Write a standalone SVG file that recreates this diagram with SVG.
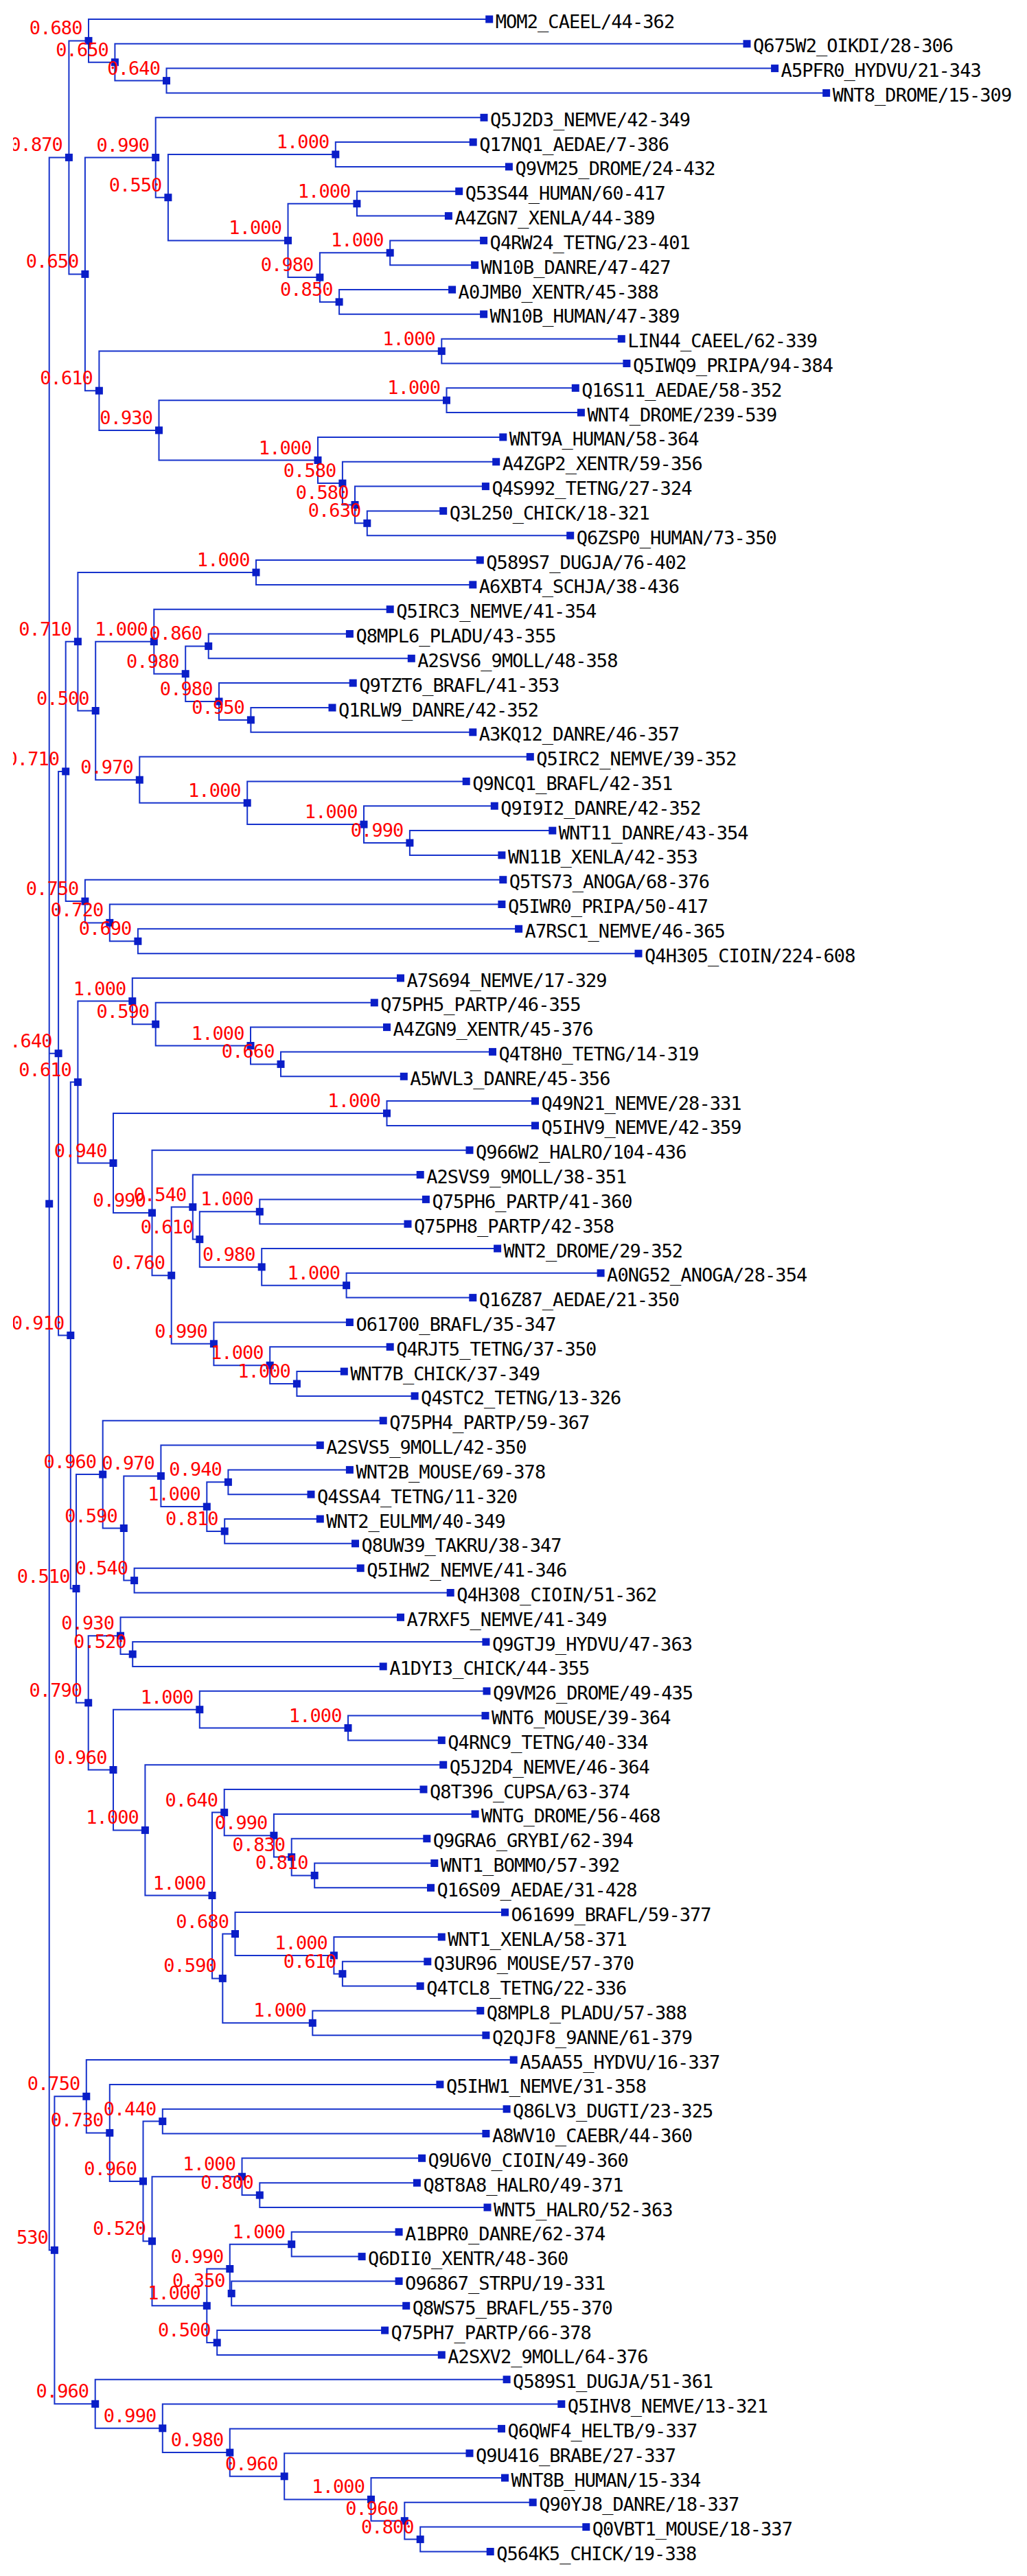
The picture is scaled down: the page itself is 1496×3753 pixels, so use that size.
<svg xmlns="http://www.w3.org/2000/svg" xmlns:xlink="http://www.w3.org/1999/xlink" width="1496" height="3753" viewBox="0 0 1496 3753">
<defs>
<style>
.c{fill:none;stroke:#1733cc;stroke-width:2}
.s{fill:#0a1ec8}
.t{font-family:"DejaVu Sans Mono","Liberation Mono",monospace;font-size:27px;letter-spacing:-0.93px;fill:#000}
.b{font-family:"DejaVu Sans Mono","Liberation Mono",monospace;font-size:27px;letter-spacing:-0.93px;fill:#ff0000;text-anchor:end}
</style>
<rect id="q" class="s" x="-5.5" y="-5.5" width="11" height="11"/>
<clipPath id="cl"><rect x="19" y="0" width="1477" height="3753"/></clipPath>
</defs>
<rect width="1496" height="3753" fill="#fff"/>
<g id="connectors" class="c">
<path d="M100.4 229.4H71.7V3278.3H79.4M71.7 1534.7H85.1"/>
<path d="M129 59.4H100.4V399.4H123.9"/>
<path d="M712.7 28H129V90.7H167.4"/>
<path d="M1088 63.8H167.4V117.6H242.5"/>
<path d="M1128.6 99.6H242.5V135.5H1203.7"/>
<path d="M226.7 229.5H123.9V569.2H144.4"/>
<path d="M705 171.3H226.7V287.7H244.9"/>
<path d="M488.8 225H244.9V350.4H419.5"/>
<path d="M689.2 207.1H488.8V242.9H741.4"/>
<path d="M519.9 296.7H419.5V404.1H465.9"/>
<path d="M668.7 278.7H519.9V314.6H653.4"/>
<path d="M568.2 368.3H465.9V439.9H494.1"/>
<path d="M704.6 350.4H568.2V386.2H691.6"/>
<path d="M658.6 422H494.1V457.8H704.6"/>
<path d="M643.3 511.6H144.4V626.9H231.5"/>
<path d="M905.3 493.7H643.3V529.5H912.9"/>
<path d="M650.5 583.2H231.5V670.5H463"/>
<path d="M838.3 565.3H650.5V601.1H846.4"/>
<path d="M732.8 636.9H463V704.1H498.9"/>
<path d="M722.7 672.8H498.9V735.5H517"/>
<path d="M707.4 708.6H517V762.3H534.8"/>
<path d="M645.7 744.4H534.8V780.2H830.7"/>
<path d="M95.7 1123.9H85.1V1945.5H102.8"/>
<path d="M113.4 934.7H95.7V1313.1H123.9"/>
<path d="M373 834H113.4V1035.5H139.2"/>
<path d="M699.3 816H373V851.9H688.8"/>
<path d="M224.3 934.7H139.2V1136.2H203.3"/>
<path d="M568.2 887.7H224.3V981.7H270.2"/>
<path d="M303.7 941.4H270.2V1022H319"/>
<path d="M509.4 923.5H303.7V959.3H599.3"/>
<path d="M514.2 995.1H319V1048.9H365.4"/>
<path d="M484 1031H365.4V1066.8H688.8"/>
<path d="M772.3 1102.6H203.3V1169.8H360.2"/>
<path d="M679.2 1138.4H360.2V1201.1H530"/>
<path d="M720.3 1174.2H530V1228H596.9"/>
<path d="M804.8 1210.1H596.9V1245.9H730.9"/>
<path d="M732.8 1281.7H123.9V1344.4H159.8"/>
<path d="M730.9 1317.5H159.8V1371.3H200.9"/>
<path d="M755.6 1353.3H200.9V1389.2H930"/>
<path d="M113.4 1576.6H102.8V2314.5H111"/>
<path d="M192.8 1458.6H113.4V1694.5H165"/>
<path d="M583.5 1425H192.8V1492.2H226.7"/>
<path d="M545.3 1460.8H226.7V1523.5H365"/>
<path d="M563.5 1496.6H365V1550.4H409"/>
<path d="M717.5 1532.4H409V1568.3H588.3"/>
<path d="M563.5 1622H165V1767H221.5"/>
<path d="M779.5 1604.1H563.5V1639.9H779.5"/>
<path d="M684 1675.7H221.5V1858.2H249.7"/>
<path d="M280.8 1758.6H249.7V1957.8H311.4"/>
<path d="M612.2 1711.5H280.8V1805.6H290.8"/>
<path d="M378.3 1765.3H290.8V1845.9H381.2"/>
<path d="M620.4 1747.4H378.3V1783.2H594"/>
<path d="M724.6 1819H381.2V1872.7H504.6"/>
<path d="M875.1 1854.8H504.6V1890.6H688.8"/>
<path d="M509.4 1926.5H311.4V1989.2H393.2"/>
<path d="M568.2 1962.3H393.2V2016H432.4"/>
<path d="M501.3 1998.1H432.4V2033.9H604.1"/>
<path d="M149.7 2148.1H111V2480.8H128.7"/>
<path d="M558.2 2069.7H149.7V2226.5H180.3"/>
<path d="M234.4 2150.4H180.3V2302.6H195.6"/>
<path d="M466.3 2105.6H234.4V2195.1H301.3"/>
<path d="M332.4 2159.3H301.3V2230.9H327.2"/>
<path d="M509.4 2141.4H332.4V2177.2H453"/>
<path d="M466.3 2213H327.2V2248.8H517.5"/>
<path d="M525.2 2284.7H195.6V2320.5H656.2"/>
<path d="M175.5 2383.2H128.7V2578.5H165"/>
<path d="M583.5 2356.3H175.5V2410H193.2"/>
<path d="M707.9 2392.1H193.2V2427.9H558.2"/>
<path d="M290.8 2490.7H165V2666.4H211.4"/>
<path d="M709 2463.8H290.8V2517.5H507"/>
<path d="M707 2499.6H507V2535.4H643.3"/>
<path d="M645.7 2571.2H211.4V2761.5H309"/>
<path d="M326.7 2640.6H309V2882.4H324.3"/>
<path d="M617 2607H326.7V2674.2H398.9"/>
<path d="M692.1 2642.9H398.9V2705.6H424.7"/>
<path d="M621.8 2678.7H424.7V2732.4H458.2"/>
<path d="M632.8 2714.5H458.2V2750.3H627.5"/>
<path d="M342.5 2817.5H324.3V2947.3H455.3"/>
<path d="M735.5 2786.1H342.5V2848.9H486.4"/>
<path d="M643.3 2822H486.4V2875.7H498.9"/>
<path d="M622.8 2857.8H498.9V2893.6H612.2"/>
<path d="M699.8 2929.4H455.3V2965.2H707.9"/>
<path d="M125.8 3054.3H79.4V3502.3H138.7"/>
<path d="M748.2 3001.1H125.8V3107.4H159.8"/>
<path d="M640.9 3036.9H159.8V3177.9H208.5"/>
<path d="M236.8 3090.6H208.5V3265.2H221.5"/>
<path d="M738.1 3072.7H236.8V3108.5H707.9"/>
<path d="M352.5 3171.2H221.5V3359.3H301.3"/>
<path d="M614.6 3144.3H352.5V3198.1H378.3"/>
<path d="M607.4 3180.2H378.3V3216H710"/>
<path d="M334.8 3305.5H301.3V3413H316.2"/>
<path d="M424.7 3269.7H334.8V3341.4H337.2"/>
<path d="M581.1 3251.8H424.7V3287.6H527.1"/>
<path d="M581.1 3323.4H337.2V3359.3H591.7"/>
<path d="M560.6 3395.1H316.2V3430.9H643.3"/>
<path d="M738.1 3466.7H138.7V3537.8H236.8"/>
<path d="M817.8 3502.5H236.8V3573.1H334.8"/>
<path d="M730.5 3538.4H334.8V3607.8H414.2"/>
<path d="M684 3574.2H414.2V3641.4H540.5"/>
<path d="M735.5 3610H540.5V3672.7H589.3"/>
<path d="M776.2 3645.8H589.3V3699.6H612.2"/>
<path d="M853.8 3681.6H612.2V3717.5H714.2"/>
</g>
<g id="inner-nodes">
<g id="n-root"><use href="#q" x="71.7" y="1753.8"/></g>
<g id="n1"><text class="b" clip-path="url(#cl)" x="90.9" y="220.4">0.870</text><use href="#q" x="100.4" y="229.4"/></g>
<g id="n2"><text class="b" x="119.5" y="50.4">0.680</text><use href="#q" x="129" y="59.4"/></g>
<g id="n3"><text class="b" x="157.9" y="81.7">0.650</text><use href="#q" x="167.4" y="90.7"/></g>
<g id="n4"><text class="b" x="233" y="108.6">0.640</text><use href="#q" x="242.5" y="117.6"/></g>
<g id="n5"><text class="b" x="114.4" y="390.4">0.650</text><use href="#q" x="123.9" y="399.4"/></g>
<g id="n6"><text class="b" x="217.2" y="220.5">0.990</text><use href="#q" x="226.7" y="229.5"/></g>
<g id="n7"><text class="b" x="235.4" y="278.7">0.550</text><use href="#q" x="244.9" y="287.7"/></g>
<g id="n8"><text class="b" x="479.3" y="216">1.000</text><use href="#q" x="488.8" y="225"/></g>
<g id="n9"><text class="b" x="410" y="341.4">1.000</text><use href="#q" x="419.5" y="350.4"/></g>
<g id="n10"><text class="b" x="510.4" y="287.7">1.000</text><use href="#q" x="519.9" y="296.7"/></g>
<g id="n11"><text class="b" x="456.4" y="395.1">0.980</text><use href="#q" x="465.9" y="404.1"/></g>
<g id="n12"><text class="b" x="558.7" y="359.3">1.000</text><use href="#q" x="568.2" y="368.3"/></g>
<g id="n13"><text class="b" x="484.6" y="430.9">0.850</text><use href="#q" x="494.1" y="439.9"/></g>
<g id="n14"><text class="b" x="134.9" y="560.2">0.610</text><use href="#q" x="144.4" y="569.2"/></g>
<g id="n15"><text class="b" x="633.8" y="502.6">1.000</text><use href="#q" x="643.3" y="511.6"/></g>
<g id="n16"><text class="b" x="222" y="617.9">0.930</text><use href="#q" x="231.5" y="626.9"/></g>
<g id="n17"><text class="b" x="641" y="574.2">1.000</text><use href="#q" x="650.5" y="583.2"/></g>
<g id="n18"><text class="b" x="453.5" y="661.5">1.000</text><use href="#q" x="463" y="670.5"/></g>
<g id="n19"><text class="b" x="489.4" y="695.1">0.580</text><use href="#q" x="498.9" y="704.1"/></g>
<g id="n20"><text class="b" x="507.5" y="726.5">0.580</text><use href="#q" x="517" y="735.5"/></g>
<g id="n21"><text class="b" x="525.3" y="753.3">0.630</text><use href="#q" x="534.8" y="762.3"/></g>
<g id="n22"><text class="b" clip-path="url(#cl)" x="75.6" y="1525.7">0.640</text><use href="#q" x="85.1" y="1534.7"/></g>
<g id="n23"><text class="b" clip-path="url(#cl)" x="86.2" y="1114.9">0.710</text><use href="#q" x="95.7" y="1123.9"/></g>
<g id="n24"><text class="b" x="103.9" y="925.7">0.710</text><use href="#q" x="113.4" y="934.7"/></g>
<g id="n25"><text class="b" x="363.5" y="825">1.000</text><use href="#q" x="373" y="834"/></g>
<g id="n26"><text class="b" x="129.7" y="1026.5">0.500</text><use href="#q" x="139.2" y="1035.5"/></g>
<g id="n27"><text class="b" x="214.8" y="925.7">1.000</text><use href="#q" x="224.3" y="934.7"/></g>
<g id="n28"><text class="b" x="260.7" y="972.7">0.980</text><use href="#q" x="270.2" y="981.7"/></g>
<g id="n29"><text class="b" x="294.2" y="932.4">0.860</text><use href="#q" x="303.7" y="941.4"/></g>
<g id="n30"><text class="b" x="309.5" y="1013">0.980</text><use href="#q" x="319" y="1022"/></g>
<g id="n31"><text class="b" x="355.9" y="1039.9">0.950</text><use href="#q" x="365.4" y="1048.9"/></g>
<g id="n32"><text class="b" x="193.8" y="1127.2">0.970</text><use href="#q" x="203.3" y="1136.2"/></g>
<g id="n33"><text class="b" x="350.7" y="1160.8">1.000</text><use href="#q" x="360.2" y="1169.8"/></g>
<g id="n34"><text class="b" x="520.5" y="1192.1">1.000</text><use href="#q" x="530" y="1201.1"/></g>
<g id="n35"><text class="b" x="587.4" y="1219">0.990</text><use href="#q" x="596.9" y="1228"/></g>
<g id="n36"><text class="b" x="114.4" y="1304.1">0.750</text><use href="#q" x="123.9" y="1313.1"/></g>
<g id="n37"><text class="b" x="150.3" y="1335.4">0.720</text><use href="#q" x="159.8" y="1344.4"/></g>
<g id="n38"><text class="b" x="191.4" y="1362.3">0.690</text><use href="#q" x="200.9" y="1371.3"/></g>
<g id="n39"><text class="b" clip-path="url(#cl)" x="93.3" y="1936.5">0.910</text><use href="#q" x="102.8" y="1945.5"/></g>
<g id="n40"><text class="b" x="103.9" y="1567.6">0.610</text><use href="#q" x="113.4" y="1576.6"/></g>
<g id="n41"><text class="b" x="183.3" y="1449.6">1.000</text><use href="#q" x="192.8" y="1458.6"/></g>
<g id="n42"><text class="b" x="217.2" y="1483.2">0.590</text><use href="#q" x="226.7" y="1492.2"/></g>
<g id="n43"><text class="b" x="355.5" y="1514.5">1.000</text><use href="#q" x="365" y="1523.5"/></g>
<g id="n44"><text class="b" x="399.5" y="1541.4">0.660</text><use href="#q" x="409" y="1550.4"/></g>
<g id="n45"><text class="b" x="155.5" y="1685.5">0.940</text><use href="#q" x="165" y="1694.5"/></g>
<g id="n46"><text class="b" x="554" y="1613">1.000</text><use href="#q" x="563.5" y="1622"/></g>
<g id="n47"><text class="b" x="212" y="1758">0.990</text><use href="#q" x="221.5" y="1767"/></g>
<g id="n48"><text class="b" x="240.2" y="1849.2">0.760</text><use href="#q" x="249.7" y="1858.2"/></g>
<g id="n49"><text class="b" x="271.3" y="1749.6">0.540</text><use href="#q" x="280.8" y="1758.6"/></g>
<g id="n50"><text class="b" x="281.3" y="1796.6">0.610</text><use href="#q" x="290.8" y="1805.6"/></g>
<g id="n51"><text class="b" x="368.8" y="1756.3">1.000</text><use href="#q" x="378.3" y="1765.3"/></g>
<g id="n52"><text class="b" x="371.7" y="1836.9">0.980</text><use href="#q" x="381.2" y="1845.9"/></g>
<g id="n53"><text class="b" x="495.1" y="1863.7">1.000</text><use href="#q" x="504.6" y="1872.7"/></g>
<g id="n54"><text class="b" x="301.9" y="1948.8">0.990</text><use href="#q" x="311.4" y="1957.8"/></g>
<g id="n55"><text class="b" x="383.7" y="1980.2">1.000</text><use href="#q" x="393.2" y="1989.2"/></g>
<g id="n56"><text class="b" x="422.9" y="2007">1.000</text><use href="#q" x="432.4" y="2016"/></g>
<g id="n57"><text class="b" x="101.5" y="2305.5">0.510</text><use href="#q" x="111" y="2314.5"/></g>
<g id="n58"><text class="b" x="140.2" y="2139.1">0.960</text><use href="#q" x="149.7" y="2148.1"/></g>
<g id="n59"><text class="b" x="170.8" y="2217.5">0.590</text><use href="#q" x="180.3" y="2226.5"/></g>
<g id="n60"><text class="b" x="224.9" y="2141.4">0.970</text><use href="#q" x="234.4" y="2150.4"/></g>
<g id="n61"><text class="b" x="291.8" y="2186.1">1.000</text><use href="#q" x="301.3" y="2195.1"/></g>
<g id="n62"><text class="b" x="322.9" y="2150.3">0.940</text><use href="#q" x="332.4" y="2159.3"/></g>
<g id="n63"><text class="b" x="317.7" y="2221.9">0.810</text><use href="#q" x="327.2" y="2230.9"/></g>
<g id="n64"><text class="b" x="186.1" y="2293.6">0.540</text><use href="#q" x="195.6" y="2302.6"/></g>
<g id="n65"><text class="b" x="119.2" y="2471.8">0.790</text><use href="#q" x="128.7" y="2480.8"/></g>
<g id="n66"><text class="b" x="166" y="2374.2">0.930</text><use href="#q" x="175.5" y="2383.2"/></g>
<g id="n67"><text class="b" x="183.7" y="2401">0.520</text><use href="#q" x="193.2" y="2410"/></g>
<g id="n68"><text class="b" x="155.5" y="2569.5">0.960</text><use href="#q" x="165" y="2578.5"/></g>
<g id="n69"><text class="b" x="281.3" y="2481.7">1.000</text><use href="#q" x="290.8" y="2490.7"/></g>
<g id="n70"><text class="b" x="497.5" y="2508.5">1.000</text><use href="#q" x="507" y="2517.5"/></g>
<g id="n71"><text class="b" x="201.9" y="2657.4">1.000</text><use href="#q" x="211.4" y="2666.4"/></g>
<g id="n72"><text class="b" x="299.5" y="2752.5">1.000</text><use href="#q" x="309" y="2761.5"/></g>
<g id="n73"><text class="b" x="317.2" y="2631.6">0.640</text><use href="#q" x="326.7" y="2640.6"/></g>
<g id="n74"><text class="b" x="389.4" y="2665.2">0.990</text><use href="#q" x="398.9" y="2674.2"/></g>
<g id="n75"><text class="b" x="415.2" y="2696.6">0.830</text><use href="#q" x="424.7" y="2705.6"/></g>
<g id="n76"><text class="b" x="448.7" y="2723.4">0.810</text><use href="#q" x="458.2" y="2732.4"/></g>
<g id="n77"><text class="b" x="314.8" y="2873.4">0.590</text><use href="#q" x="324.3" y="2882.4"/></g>
<g id="n78"><text class="b" x="333" y="2808.5">0.680</text><use href="#q" x="342.5" y="2817.5"/></g>
<g id="n79"><text class="b" x="476.9" y="2839.9">1.000</text><use href="#q" x="486.4" y="2848.9"/></g>
<g id="n80"><text class="b" x="489.4" y="2866.7">0.610</text><use href="#q" x="498.9" y="2875.7"/></g>
<g id="n81"><text class="b" x="445.8" y="2938.3">1.000</text><use href="#q" x="455.3" y="2947.3"/></g>
<g id="n82"><text class="b" clip-path="url(#cl)" x="69.9" y="3269.3">0.530</text><use href="#q" x="79.4" y="3278.3"/></g>
<g id="n83"><text class="b" x="116.3" y="3045.3">0.750</text><use href="#q" x="125.8" y="3054.3"/></g>
<g id="n84"><text class="b" x="150.3" y="3098.4">0.730</text><use href="#q" x="159.8" y="3107.4"/></g>
<g id="n85"><text class="b" x="199" y="3168.9">0.960</text><use href="#q" x="208.5" y="3177.9"/></g>
<g id="n86"><text class="b" x="227.3" y="3081.6">0.440</text><use href="#q" x="236.8" y="3090.6"/></g>
<g id="n87"><text class="b" x="212" y="3256.2">0.520</text><use href="#q" x="221.5" y="3265.2"/></g>
<g id="n88"><text class="b" x="343" y="3162.2">1.000</text><use href="#q" x="352.5" y="3171.2"/></g>
<g id="n89"><text class="b" x="368.8" y="3189.1">0.800</text><use href="#q" x="378.3" y="3198.1"/></g>
<g id="n90"><text class="b" x="291.8" y="3350.3">1.000</text><use href="#q" x="301.3" y="3359.3"/></g>
<g id="n91"><text class="b" x="325.3" y="3296.5">0.990</text><use href="#q" x="334.8" y="3305.5"/></g>
<g id="n92"><text class="b" x="415.2" y="3260.7">1.000</text><use href="#q" x="424.7" y="3269.7"/></g>
<g id="n93"><text class="b" x="327.7" y="3332.4">0.350</text><use href="#q" x="337.2" y="3341.4"/></g>
<g id="n94"><text class="b" x="306.7" y="3404">0.500</text><use href="#q" x="316.2" y="3413"/></g>
<g id="n95"><text class="b" x="129.2" y="3493.3">0.960</text><use href="#q" x="138.7" y="3502.3"/></g>
<g id="n96"><text class="b" x="227.3" y="3528.8">0.990</text><use href="#q" x="236.8" y="3537.8"/></g>
<g id="n97"><text class="b" x="325.3" y="3564.1">0.980</text><use href="#q" x="334.8" y="3573.1"/></g>
<g id="n98"><text class="b" x="404.7" y="3598.8">0.960</text><use href="#q" x="414.2" y="3607.8"/></g>
<g id="n99"><text class="b" x="531" y="3632.4">1.000</text><use href="#q" x="540.5" y="3641.4"/></g>
<g id="n100"><text class="b" x="579.8" y="3663.7">0.960</text><use href="#q" x="589.3" y="3672.7"/></g>
<g id="n101"><text class="b" x="602.7" y="3690.6">0.800</text><use href="#q" x="612.2" y="3699.6"/></g>
</g>
<g id="leaves">
<g id="leaf1"><use href="#q" x="712.7" y="28"/><text class="t" x="721.7" y="40.5">MOM2_CAEEL/44-362</text></g>
<g id="leaf2"><use href="#q" x="1088" y="63.8"/><text class="t" x="1097" y="76.3">Q675W2_OIKDI/28-306</text></g>
<g id="leaf3"><use href="#q" x="1128.6" y="99.6"/><text class="t" x="1137.6" y="112.1">A5PFR0_HYDVU/21-343</text></g>
<g id="leaf4"><use href="#q" x="1203.7" y="135.5"/><text class="t" x="1212.7" y="148">WNT8_DROME/15-309</text></g>
<g id="leaf5"><use href="#q" x="705" y="171.3"/><text class="t" x="714" y="183.8">Q5J2D3_NEMVE/42-349</text></g>
<g id="leaf6"><use href="#q" x="689.2" y="207.1"/><text class="t" x="698.2" y="219.6">Q17NQ1_AEDAE/7-386</text></g>
<g id="leaf7"><use href="#q" x="741.4" y="242.9"/><text class="t" x="750.4" y="255.4">Q9VM25_DROME/24-432</text></g>
<g id="leaf8"><use href="#q" x="668.7" y="278.7"/><text class="t" x="677.7" y="291.2">Q53S44_HUMAN/60-417</text></g>
<g id="leaf9"><use href="#q" x="653.4" y="314.6"/><text class="t" x="662.4" y="327.1">A4ZGN7_XENLA/44-389</text></g>
<g id="leaf10"><use href="#q" x="704.6" y="350.4"/><text class="t" x="713.6" y="362.9">Q4RW24_TETNG/23-401</text></g>
<g id="leaf11"><use href="#q" x="691.6" y="386.2"/><text class="t" x="700.6" y="398.7">WN10B_DANRE/47-427</text></g>
<g id="leaf12"><use href="#q" x="658.6" y="422"/><text class="t" x="667.6" y="434.5">A0JMB0_XENTR/45-388</text></g>
<g id="leaf13"><use href="#q" x="704.6" y="457.8"/><text class="t" x="713.6" y="470.3">WN10B_HUMAN/47-389</text></g>
<g id="leaf14"><use href="#q" x="905.3" y="493.7"/><text class="t" x="914.3" y="506.2">LIN44_CAEEL/62-339</text></g>
<g id="leaf15"><use href="#q" x="912.9" y="529.5"/><text class="t" x="921.9" y="542">Q5IWQ9_PRIPA/94-384</text></g>
<g id="leaf16"><use href="#q" x="838.3" y="565.3"/><text class="t" x="847.3" y="577.8">Q16S11_AEDAE/58-352</text></g>
<g id="leaf17"><use href="#q" x="846.4" y="601.1"/><text class="t" x="855.4" y="613.6">WNT4_DROME/239-539</text></g>
<g id="leaf18"><use href="#q" x="732.8" y="636.9"/><text class="t" x="741.8" y="649.4">WNT9A_HUMAN/58-364</text></g>
<g id="leaf19"><use href="#q" x="722.7" y="672.8"/><text class="t" x="731.7" y="685.3">A4ZGP2_XENTR/59-356</text></g>
<g id="leaf20"><use href="#q" x="707.4" y="708.6"/><text class="t" x="716.4" y="721.1">Q4S992_TETNG/27-324</text></g>
<g id="leaf21"><use href="#q" x="645.7" y="744.4"/><text class="t" x="654.7" y="756.9">Q3L250_CHICK/18-321</text></g>
<g id="leaf22"><use href="#q" x="830.7" y="780.2"/><text class="t" x="839.7" y="792.7">Q6ZSP0_HUMAN/73-350</text></g>
<g id="leaf23"><use href="#q" x="699.3" y="816"/><text class="t" x="708.3" y="828.5">Q589S7_DUGJA/76-402</text></g>
<g id="leaf24"><use href="#q" x="688.8" y="851.9"/><text class="t" x="697.8" y="864.4">A6XBT4_SCHJA/38-436</text></g>
<g id="leaf25"><use href="#q" x="568.2" y="887.7"/><text class="t" x="577.2" y="900.2">Q5IRC3_NEMVE/41-354</text></g>
<g id="leaf26"><use href="#q" x="509.4" y="923.5"/><text class="t" x="518.4" y="936">Q8MPL6_PLADU/43-355</text></g>
<g id="leaf27"><use href="#q" x="599.3" y="959.3"/><text class="t" x="608.3" y="971.8">A2SVS6_9MOLL/48-358</text></g>
<g id="leaf28"><use href="#q" x="514.2" y="995.1"/><text class="t" x="523.2" y="1007.6">Q9TZT6_BRAFL/41-353</text></g>
<g id="leaf29"><use href="#q" x="484" y="1031"/><text class="t" x="493" y="1043.5">Q1RLW9_DANRE/42-352</text></g>
<g id="leaf30"><use href="#q" x="688.8" y="1066.8"/><text class="t" x="697.8" y="1079.3">A3KQ12_DANRE/46-357</text></g>
<g id="leaf31"><use href="#q" x="772.3" y="1102.6"/><text class="t" x="781.3" y="1115.1">Q5IRC2_NEMVE/39-352</text></g>
<g id="leaf32"><use href="#q" x="679.2" y="1138.4"/><text class="t" x="688.2" y="1150.9">Q9NCQ1_BRAFL/42-351</text></g>
<g id="leaf33"><use href="#q" x="720.3" y="1174.2"/><text class="t" x="729.3" y="1186.7">Q9I9I2_DANRE/42-352</text></g>
<g id="leaf34"><use href="#q" x="804.8" y="1210.1"/><text class="t" x="813.8" y="1222.6">WNT11_DANRE/43-354</text></g>
<g id="leaf35"><use href="#q" x="730.9" y="1245.9"/><text class="t" x="739.9" y="1258.4">WN11B_XENLA/42-353</text></g>
<g id="leaf36"><use href="#q" x="732.8" y="1281.7"/><text class="t" x="741.8" y="1294.2">Q5TS73_ANOGA/68-376</text></g>
<g id="leaf37"><use href="#q" x="730.9" y="1317.5"/><text class="t" x="739.9" y="1330">Q5IWR0_PRIPA/50-417</text></g>
<g id="leaf38"><use href="#q" x="755.6" y="1353.3"/><text class="t" x="764.6" y="1365.8">A7RSC1_NEMVE/46-365</text></g>
<g id="leaf39"><use href="#q" x="930" y="1389.2"/><text class="t" x="939" y="1401.7">Q4H305_CIOIN/224-608</text></g>
<g id="leaf40"><use href="#q" x="583.5" y="1425"/><text class="t" x="592.5" y="1437.5">A7S694_NEMVE/17-329</text></g>
<g id="leaf41"><use href="#q" x="545.3" y="1460.8"/><text class="t" x="554.3" y="1473.3">Q75PH5_PARTP/46-355</text></g>
<g id="leaf42"><use href="#q" x="563.5" y="1496.6"/><text class="t" x="572.5" y="1509.1">A4ZGN9_XENTR/45-376</text></g>
<g id="leaf43"><use href="#q" x="717.5" y="1532.4"/><text class="t" x="726.5" y="1544.9">Q4T8H0_TETNG/14-319</text></g>
<g id="leaf44"><use href="#q" x="588.3" y="1568.3"/><text class="t" x="597.3" y="1580.8">A5WVL3_DANRE/45-356</text></g>
<g id="leaf45"><use href="#q" x="779.5" y="1604.1"/><text class="t" x="788.5" y="1616.6">Q49N21_NEMVE/28-331</text></g>
<g id="leaf46"><use href="#q" x="779.5" y="1639.9"/><text class="t" x="788.5" y="1652.4">Q5IHV9_NEMVE/42-359</text></g>
<g id="leaf47"><use href="#q" x="684" y="1675.7"/><text class="t" x="693" y="1688.2">Q966W2_HALRO/104-436</text></g>
<g id="leaf48"><use href="#q" x="612.2" y="1711.5"/><text class="t" x="621.2" y="1724">A2SVS9_9MOLL/38-351</text></g>
<g id="leaf49"><use href="#q" x="620.4" y="1747.4"/><text class="t" x="629.4" y="1759.9">Q75PH6_PARTP/41-360</text></g>
<g id="leaf50"><use href="#q" x="594" y="1783.2"/><text class="t" x="603" y="1795.7">Q75PH8_PARTP/42-358</text></g>
<g id="leaf51"><use href="#q" x="724.6" y="1819"/><text class="t" x="733.6" y="1831.5">WNT2_DROME/29-352</text></g>
<g id="leaf52"><use href="#q" x="875.1" y="1854.8"/><text class="t" x="884.1" y="1867.3">A0NG52_ANOGA/28-354</text></g>
<g id="leaf53"><use href="#q" x="688.8" y="1890.6"/><text class="t" x="697.8" y="1903.1">Q16Z87_AEDAE/21-350</text></g>
<g id="leaf54"><use href="#q" x="509.4" y="1926.5"/><text class="t" x="518.4" y="1939">O61700_BRAFL/35-347</text></g>
<g id="leaf55"><use href="#q" x="568.2" y="1962.3"/><text class="t" x="577.2" y="1974.8">Q4RJT5_TETNG/37-350</text></g>
<g id="leaf56"><use href="#q" x="501.3" y="1998.1"/><text class="t" x="510.3" y="2010.6">WNT7B_CHICK/37-349</text></g>
<g id="leaf57"><use href="#q" x="604.1" y="2033.9"/><text class="t" x="613.1" y="2046.4">Q4STC2_TETNG/13-326</text></g>
<g id="leaf58"><use href="#q" x="558.2" y="2069.7"/><text class="t" x="567.2" y="2082.2">Q75PH4_PARTP/59-367</text></g>
<g id="leaf59"><use href="#q" x="466.3" y="2105.6"/><text class="t" x="475.3" y="2118.1">A2SVS5_9MOLL/42-350</text></g>
<g id="leaf60"><use href="#q" x="509.4" y="2141.4"/><text class="t" x="518.4" y="2153.9">WNT2B_MOUSE/69-378</text></g>
<g id="leaf61"><use href="#q" x="453" y="2177.2"/><text class="t" x="462" y="2189.7">Q4SSA4_TETNG/11-320</text></g>
<g id="leaf62"><use href="#q" x="466.3" y="2213"/><text class="t" x="475.3" y="2225.5">WNT2_EULMM/40-349</text></g>
<g id="leaf63"><use href="#q" x="517.5" y="2248.8"/><text class="t" x="526.5" y="2261.3">Q8UW39_TAKRU/38-347</text></g>
<g id="leaf64"><use href="#q" x="525.2" y="2284.7"/><text class="t" x="534.2" y="2297.2">Q5IHW2_NEMVE/41-346</text></g>
<g id="leaf65"><use href="#q" x="656.2" y="2320.5"/><text class="t" x="665.2" y="2333">Q4H308_CIOIN/51-362</text></g>
<g id="leaf66"><use href="#q" x="583.5" y="2356.3"/><text class="t" x="592.5" y="2368.8">A7RXF5_NEMVE/41-349</text></g>
<g id="leaf67"><use href="#q" x="707.9" y="2392.1"/><text class="t" x="716.9" y="2404.6">Q9GTJ9_HYDVU/47-363</text></g>
<g id="leaf68"><use href="#q" x="558.2" y="2427.9"/><text class="t" x="567.2" y="2440.4">A1DYI3_CHICK/44-355</text></g>
<g id="leaf69"><use href="#q" x="709" y="2463.8"/><text class="t" x="718" y="2476.3">Q9VM26_DROME/49-435</text></g>
<g id="leaf70"><use href="#q" x="707" y="2499.6"/><text class="t" x="716" y="2512.1">WNT6_MOUSE/39-364</text></g>
<g id="leaf71"><use href="#q" x="643.3" y="2535.4"/><text class="t" x="652.3" y="2547.9">Q4RNC9_TETNG/40-334</text></g>
<g id="leaf72"><use href="#q" x="645.7" y="2571.2"/><text class="t" x="654.7" y="2583.7">Q5J2D4_NEMVE/46-364</text></g>
<g id="leaf73"><use href="#q" x="617" y="2607"/><text class="t" x="626" y="2619.5">Q8T396_CUPSA/63-374</text></g>
<g id="leaf74"><use href="#q" x="692.1" y="2642.9"/><text class="t" x="701.1" y="2655.4">WNTG_DROME/56-468</text></g>
<g id="leaf75"><use href="#q" x="621.8" y="2678.7"/><text class="t" x="630.8" y="2691.2">Q9GRA6_GRYBI/62-394</text></g>
<g id="leaf76"><use href="#q" x="632.8" y="2714.5"/><text class="t" x="641.8" y="2727">WNT1_BOMMO/57-392</text></g>
<g id="leaf77"><use href="#q" x="627.5" y="2750.3"/><text class="t" x="636.5" y="2762.8">Q16S09_AEDAE/31-428</text></g>
<g id="leaf78"><use href="#q" x="735.5" y="2786.1"/><text class="t" x="744.5" y="2798.6">O61699_BRAFL/59-377</text></g>
<g id="leaf79"><use href="#q" x="643.3" y="2822"/><text class="t" x="652.3" y="2834.5">WNT1_XENLA/58-371</text></g>
<g id="leaf80"><use href="#q" x="622.8" y="2857.8"/><text class="t" x="631.8" y="2870.3">Q3UR96_MOUSE/57-370</text></g>
<g id="leaf81"><use href="#q" x="612.2" y="2893.6"/><text class="t" x="621.2" y="2906.1">Q4TCL8_TETNG/22-336</text></g>
<g id="leaf82"><use href="#q" x="699.8" y="2929.4"/><text class="t" x="708.8" y="2941.9">Q8MPL8_PLADU/57-388</text></g>
<g id="leaf83"><use href="#q" x="707.9" y="2965.2"/><text class="t" x="716.9" y="2977.7">Q2QJF8_9ANNE/61-379</text></g>
<g id="leaf84"><use href="#q" x="748.2" y="3001.1"/><text class="t" x="757.2" y="3013.6">A5AA55_HYDVU/16-337</text></g>
<g id="leaf85"><use href="#q" x="640.9" y="3036.9"/><text class="t" x="649.9" y="3049.4">Q5IHW1_NEMVE/31-358</text></g>
<g id="leaf86"><use href="#q" x="738.1" y="3072.7"/><text class="t" x="747.1" y="3085.2">Q86LV3_DUGTI/23-325</text></g>
<g id="leaf87"><use href="#q" x="707.9" y="3108.5"/><text class="t" x="716.9" y="3121">A8WV10_CAEBR/44-360</text></g>
<g id="leaf88"><use href="#q" x="614.6" y="3144.3"/><text class="t" x="623.6" y="3156.8">Q9U6V0_CIOIN/49-360</text></g>
<g id="leaf89"><use href="#q" x="607.4" y="3180.2"/><text class="t" x="616.4" y="3192.7">Q8T8A8_HALRO/49-371</text></g>
<g id="leaf90"><use href="#q" x="710" y="3216"/><text class="t" x="719" y="3228.5">WNT5_HALRO/52-363</text></g>
<g id="leaf91"><use href="#q" x="581.1" y="3251.8"/><text class="t" x="590.1" y="3264.3">A1BPR0_DANRE/62-374</text></g>
<g id="leaf92"><use href="#q" x="527.1" y="3287.6"/><text class="t" x="536.1" y="3300.1">Q6DII0_XENTR/48-360</text></g>
<g id="leaf93"><use href="#q" x="581.1" y="3323.4"/><text class="t" x="590.1" y="3335.9">O96867_STRPU/19-331</text></g>
<g id="leaf94"><use href="#q" x="591.7" y="3359.3"/><text class="t" x="600.7" y="3371.8">Q8WS75_BRAFL/55-370</text></g>
<g id="leaf95"><use href="#q" x="560.6" y="3395.1"/><text class="t" x="569.6" y="3407.6">Q75PH7_PARTP/66-378</text></g>
<g id="leaf96"><use href="#q" x="643.3" y="3430.9"/><text class="t" x="652.3" y="3443.4">A2SXV2_9MOLL/64-376</text></g>
<g id="leaf97"><use href="#q" x="738.1" y="3466.7"/><text class="t" x="747.1" y="3479.2">Q589S1_DUGJA/51-361</text></g>
<g id="leaf98"><use href="#q" x="817.8" y="3502.5"/><text class="t" x="826.8" y="3515">Q5IHV8_NEMVE/13-321</text></g>
<g id="leaf99"><use href="#q" x="730.5" y="3538.4"/><text class="t" x="739.5" y="3550.9">Q6QWF4_HELTB/9-337</text></g>
<g id="leaf100"><use href="#q" x="684" y="3574.2"/><text class="t" x="693" y="3586.7">Q9U416_BRABE/27-337</text></g>
<g id="leaf101"><use href="#q" x="735.5" y="3610"/><text class="t" x="744.5" y="3622.5">WNT8B_HUMAN/15-334</text></g>
<g id="leaf102"><use href="#q" x="776.2" y="3645.8"/><text class="t" x="785.2" y="3658.3">Q90YJ8_DANRE/18-337</text></g>
<g id="leaf103"><use href="#q" x="853.8" y="3681.6"/><text class="t" x="862.8" y="3694.1">Q0VBT1_MOUSE/18-337</text></g>
<g id="leaf104"><use href="#q" x="714.2" y="3717.5"/><text class="t" x="723.2" y="3730">Q564K5_CHICK/19-338</text></g>
</g>
</svg>
